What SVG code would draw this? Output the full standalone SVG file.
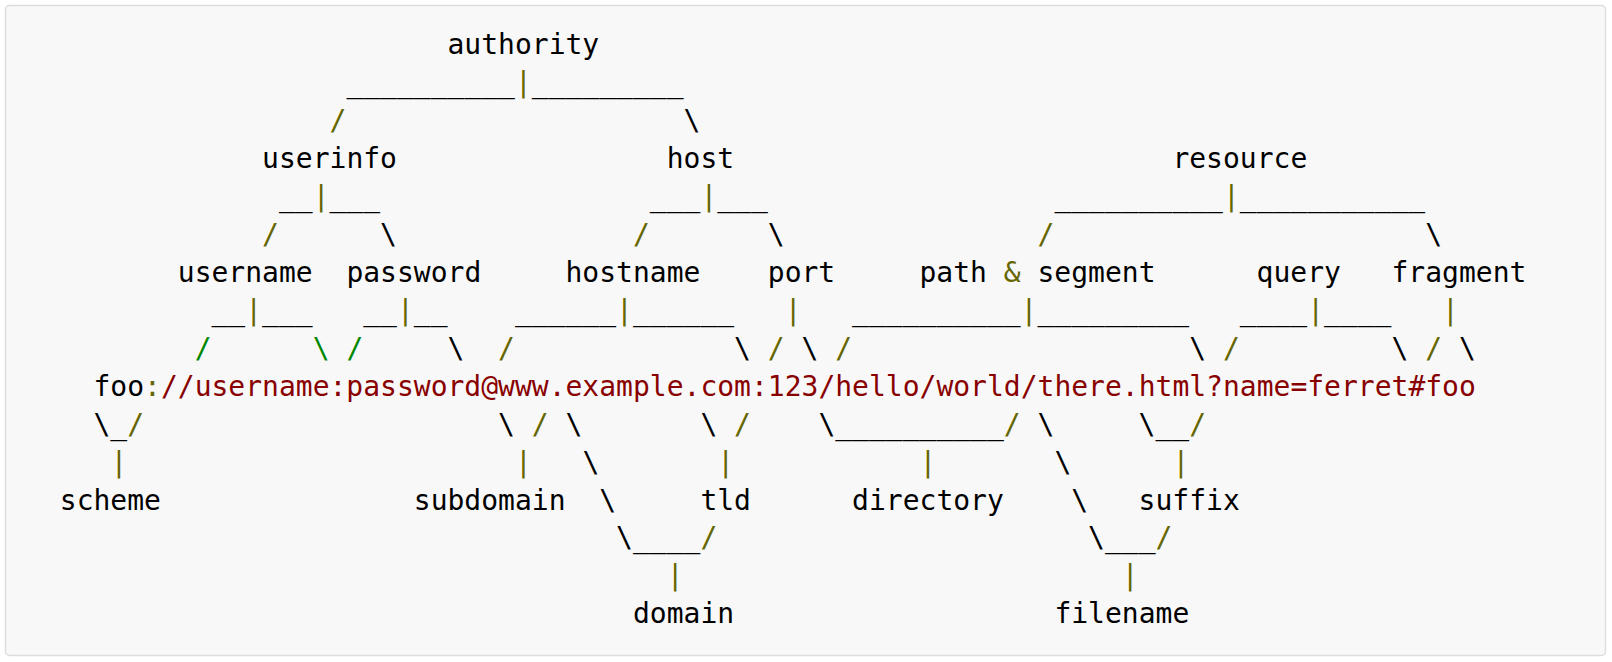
<svg xmlns="http://www.w3.org/2000/svg" width="1612" height="662" viewBox="0 0 1612 662">
<style>
text{font-family:"DejaVu Sans Mono","Liberation Mono",monospace;font-size:28px;fill:#000}
.p{fill:#660}
.s{fill:#080}
.c{fill:#800}
</style>
<rect x="5.5" y="5.5" width="1600" height="650" rx="4" fill="#f8f8f8" stroke="#ddd" stroke-width="1.5"/>
<g id="connectors">
<text x="346.4" y="92.2">__________</text><text class="p" x="514.9" y="92.2">|</text><text x="531.8" y="92.2">_________</text>
<text class="p" x="329.5" y="130.2">/</text><text x="683.5" y="130.2">\</text>
<text x="278.9" y="206">__</text><text class="p" x="312.7" y="206">|</text><text x="329.5" y="206">___</text>
<text x="649.8" y="206">___</text><text class="p" x="700.4" y="206">|</text><text x="717.2" y="206">___</text>
<text x="1054.4" y="206">__________</text><text class="p" x="1222.9" y="206">|</text><text x="1239.8" y="206">___________</text>
<text class="p" x="262.1" y="244">/</text><text x="380.1" y="244">\</text>
<text class="p" x="633" y="244">/</text><text x="767.8" y="244">\</text>
<text class="p" x="1037.5" y="244">/</text><text x="1425.2" y="244">\</text>
<text x="211.5" y="319.8">__</text><text class="p" x="245.2" y="319.8">|</text><text x="262.1" y="319.8">___</text>
<text x="363.2" y="319.8">__</text><text class="p" x="397" y="319.8">|</text><text x="413.8" y="319.8">__</text>
<text x="514.9" y="319.8">______</text><text class="p" x="616.1" y="319.8">|</text><text x="633" y="319.8">______</text>
<text class="p" x="784.7" y="319.8">|</text>
<text x="852.1" y="319.8">__________</text><text class="p" x="1020.6" y="319.8">|</text><text x="1037.5" y="319.8">_________</text>
<text x="1239.8" y="319.8">____</text><text class="p" x="1307.2" y="319.8">|</text><text x="1324" y="319.8">____</text>
<text class="p" x="1442.1" y="319.8">|</text>
<text class="s" x="194.7" y="357.7">/</text><text class="s" x="312.7" y="357.7">\</text><text class="s" x="346.4" y="357.7">/</text>
<text x="447.5" y="357.7">\</text><text class="p" x="498.1" y="357.7">/</text>
<text x="734.1" y="357.7">\</text><text class="p" x="767.8" y="357.7">/</text>
<text x="801.5" y="357.7">\</text><text class="p" x="835.2" y="357.7">/</text>
<text x="1189.2" y="357.7">\</text><text class="p" x="1222.9" y="357.7">/</text>
<text x="1391.5" y="357.7">\</text><text class="p" x="1425.2" y="357.7">/</text>
<text x="1458.9" y="357.7">\</text>
<text x="93.5" y="433.6">\_</text><text class="p" x="127.2" y="433.6">/</text>
<text x="498.1" y="433.6">\</text><text class="p" x="531.8" y="433.6">/</text><text x="565.5" y="433.6">\</text>
<text x="700.4" y="433.6">\</text><text class="p" x="734.1" y="433.6">/</text>
<text x="818.4" y="433.6">\__________</text><text class="p" x="1003.8" y="433.6">/</text>
<text x="1037.5" y="433.6">\</text>
<text x="1138.6" y="433.6">\__</text><text class="p" x="1189.2" y="433.6">/</text>
<text class="p" x="110.4" y="471.5">|</text><text class="p" x="514.9" y="471.5">|</text><text x="582.4" y="471.5">\</text>
<text class="p" x="717.2" y="471.5">|</text><text class="p" x="919.5" y="471.5">|</text><text x="1054.4" y="471.5">\</text>
<text class="p" x="1172.4" y="471.5">|</text>
<text x="599.2" y="509.5">\</text><text x="1071.2" y="509.5">\</text>
<text x="616.1" y="547.4">\____</text><text class="p" x="700.4" y="547.4">/</text>
<text x="1088.1" y="547.4">\___</text><text class="p" x="1155.5" y="547.4">/</text>
<text class="p" x="666.7" y="585.3">|</text><text class="p" x="1121.8" y="585.3">|</text>
</g>
<g id="authority"><text x="447.5" y="54.3">authority</text></g>
<g id="userinfo"><text x="262.1" y="168.1">userinfo</text></g>
<g id="host"><text x="666.7" y="168.1">host</text></g>
<g id="resource"><text x="1172.4" y="168.1">resource</text></g>
<g id="username"><text x="177.8" y="281.9">username</text></g>
<g id="password"><text x="346.4" y="281.9">password</text></g>
<g id="hostname"><text x="565.5" y="281.9">hostname</text></g>
<g id="port"><text x="767.8" y="281.9">port</text></g>
<g id="path-segment"><text x="919.5" y="281.9">path <tspan class="p">&amp;</tspan> segment</text></g>
<g id="query"><text x="1256.6" y="281.9">query</text></g>
<g id="fragment"><text x="1391.5" y="281.9">fragment</text></g>
<g id="url"><text x="93.5" y="395.7">foo<tspan class="p">:</tspan><tspan class="c">//username:password@www.example.com:123/hello/world/there.html?name=ferret#foo</tspan></text></g>
<g id="scheme"><text x="59.8" y="509.5">scheme</text></g>
<g id="subdomain"><text x="413.8" y="509.5">subdomain</text></g>
<g id="tld"><text x="700.4" y="509.5">tld</text></g>
<g id="directory"><text x="852.1" y="509.5">directory</text></g>
<g id="suffix"><text x="1138.6" y="509.5">suffix</text></g>
<g id="domain"><text x="633" y="623.3">domain</text></g>
<g id="filename"><text x="1054.4" y="623.3">filename</text></g>
</svg>
